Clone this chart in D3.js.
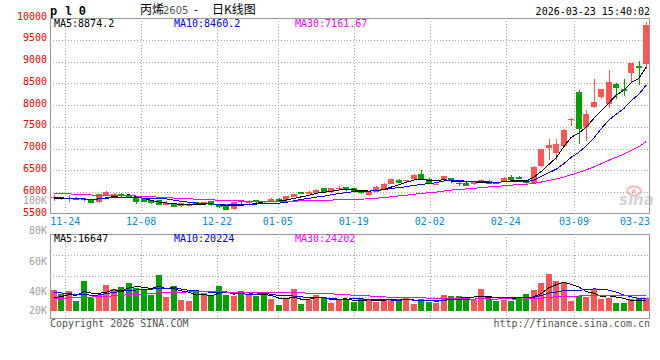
<!DOCTYPE html>
<html>
<head>
<meta charset="utf-8">
<script src="https://cdn.jsdelivr.net/npm/d3@7"></script>
<style>
  body { margin: 0; background: #fff; }
  svg text { font-family: "DejaVu Sans Mono", monospace; font-size: 10px; }
</style>
</head>
<body>
<div id="chart"></div>
<script>
// trading days shown (2025-11-20 .. 2026-03-23)
const dates = [
  "11-20","11-21","11-24","11-25","11-26","11-27","11-28","12-01","12-02","12-03",
  "12-04","12-05","12-08","12-09","12-10","12-11","12-12","12-15","12-16","12-17",
  "12-18","12-19","12-22","12-23","12-24","12-25","12-26","12-29","12-30","12-31",
  "01-05","01-06","01-07","01-08","01-09","01-12","01-13","01-14","01-15","01-16",
  "01-19","01-20","01-21","01-22","01-23","01-26","01-27","01-28","01-29","01-30",
  "02-02","02-03","02-04","02-05","02-06","02-09","02-10","02-11","02-12","02-13",
  "02-24","02-25","02-26","02-27","03-02","03-03","03-04","03-05","03-06","03-09",
  "03-10","03-11","03-12","03-13","03-16","03-17","03-18","03-19","03-20","03-23"
];

const open = [
  5860,5880,5850,5865,5840,5830,5770,5930,5930,5960,
  5925,5870,5850,5820,5825,5720,5750,5670,5690,5770,
  5720,5790,5720,5695,5600,5800,5760,5810,5790,5790,
  5850,5810,5890,6000,5960,5980,6090,6000,6070,6110,
  6090,6040,5920,6020,6090,6190,6290,6240,6300,6420,
  6310,6180,6280,6320,6220,6220,6180,6230,6260,6230,
  6270,6360,6350,6270,6230,6610,7030,6900,7070,7680,
  8300,7510,7950,8180,8040,8490,8370,8720,8890,8950
];
const close = [
  5880,5840,5870,5815,5820,5770,5960,6000,5960,5910,
  5870,5770,5780,5740,5720,5760,5660,5750,5740,5720,
  5770,5690,5650,5600,5770,5780,5800,5770,5780,5850,
  5790,5910,5960,5960,6000,6060,6000,6090,6100,6040,
  6030,5960,6000,6130,6200,6300,6230,6270,6400,6280,
  6190,6200,6370,6240,6200,6160,6230,6280,6200,6190,
  6330,6300,6310,6190,6590,6990,7090,7100,7440,7690,
  7460,7800,8070,8360,8540,8390,8330,8960,8840,9850
];
const high = [
  5925,5900,5930,5880,5850,5840,5970,6020,5980,5980,
  5935,5880,5860,5830,5830,5790,5760,5760,5750,5780,
  5780,5800,5730,5700,5775,5830,5830,5830,5800,5860,
  5860,5920,5970,6010,6020,6070,6100,6100,6150,6120,
  6100,6050,6010,6140,6210,6310,6300,6290,6410,6500,
  6320,6220,6380,6330,6230,6230,6250,6300,6270,6240,
  6360,6400,6370,6280,6600,7000,7230,7230,7450,7700,
  8340,7890,8590,8380,8800,8500,8600,8970,9020,9900
];
const low = [
  5800,5810,5780,5810,5800,5760,5760,5920,5920,5900,
  5860,5740,5770,5730,5700,5710,5650,5660,5680,5710,
  5715,5680,5640,5590,5595,5730,5740,5760,5730,5780,
  5785,5800,5880,5950,5950,5970,5990,5990,6060,6030,
  6020,5950,5910,6010,6080,6180,6220,6230,6290,6270,
  6180,6170,6270,6220,6150,6150,6170,6220,6190,6180,
  6250,6290,6300,6170,6220,6590,6740,6730,7050,7530,
  7100,7170,7940,8150,7940,8130,8220,8530,8470,8830
];
const volume = [
  32300,27000,30700,15100,46300,20300,24500,40100,33900,37400,
  43700,35900,33900,24500,55700,21400,38500,16700,15100,32300,
  28500,24500,38500,24500,22900,30700,24500,22900,26100,18300,
  8900,20300,33900,10500,17600,24500,21800,12500,16700,18300,
  14000,20900,16700,14000,19300,16700,18300,20900,10500,18300,
  14000,12500,25500,23900,23900,18400,16700,34000,19300,16000,
  16700,15100,20800,26000,32000,43000,58000,46000,45000,15100,
  23500,21500,34500,18500,21000,13100,11700,18000,20200,20200
];
// closes / volumes before the first visible day (only feed the moving averages)
const priorClose = [
  6080,6120,6090,6050,6010,6040,6070,6030,5990,6010,
  6050,6020,5980,6000,6040,6010,5990,6000,6020,5930,
  5950,5920,5890,5900,5890,5860,5830,5840,5840
];
const priorVolume = [
  12000,13500,11000,15000,14500,12500,16000,13000,15500,14000,
  13000,16500,14000,15000,12500,14500,15500,13500,17000,14600,
  42000,35000,40500,37000,37000,19000,16500,18500,18200
];

const priceTicks = [5500,6000,6500,7000,7500,8000,8500,9000,9500,10000];
const dateTicks = ["11-24","12-08","12-22","01-05","01-19","02-02","02-24","03-09","03-23"];
const volTicks = [100000,80000,60000,40000,20000];
const maPeriods = [5,10,30];
const maColors = ["#000000","#0000ff","#ff00ff"];
const maLabels = ["MA5:8874.2","MA10:8460.2","MA30:7161.67"];
const volMaLabels = ["MA5:16647","MA10:20224","MA30:24202"];

const up = "#ff5555", down = "#00a000";
const n = dates.length;

const svg = d3.select("#chart").append("svg")
  .attr("width", 660)
  .attr("height", 360);

const x = d3.scaleBand().domain(d3.range(n)).range([50, 650]).paddingInner(0.2).paddingOuter(0.1);
const xt = d3.scalePoint().domain(d3.range(n)).range([50, 650]);
const y = d3.scaleLinear().domain([5500, 10000]).range([214, 18]);
const yv = d3.scaleLinear().domain([0, 120000]).range([311, 234]);
const volLabelY = d3.scaleLinear().domain([40000, 100000]).range([291, 200]);

const cx = i => Math.round(x(i)) + 3;

function movingAvg(values, prior, k) {
  const all = prior.concat(values);
  return values.map((v, i) => d3.mean(all.slice(prior.length + i - k + 1, prior.length + i + 1)));
}

svg.append("defs").append("clipPath").attr("id", "clipMain")
  .append("rect").attr("x", 50).attr("y", 18).attr("width", 600).attr("height", 196);
svg.select("defs").append("clipPath").attr("id", "clipVol")
  .append("rect").attr("x", 50).attr("y", 234).attr("width", 600).attr("height", 84);

// grid
const grid = svg.append("g")
  .attr("stroke", "#aaaaaa")
  .attr("stroke-dasharray", "1,2")
  .attr("shape-rendering", "crispEdges");

grid.selectAll(".hg")
  .data(priceTicks.filter(p => p > 5500 && p < 10000))
  .enter().append("line")
    .attr("x1", 50).attr("x2", 650)
    .attr("y1", d => Math.round(y(d)) + 0.5)
    .attr("y2", d => Math.round(y(d)) + 0.5);

grid.selectAll(".hv")
  .data([1, 2, 3])
  .enter().append("line")
    .attr("x1", 50).attr("x2", 650)
    .attr("y1", k => Math.round(234 + k * 21) + 0.5)
    .attr("y2", k => Math.round(234 + k * 21) + 0.5);

const tickIdx = dateTicks.map(t => dates.indexOf(t));
[[18, 214], [234, 318]].forEach(function(r) {
  grid.append("g").selectAll("line")
    .data(tickIdx.slice(0, -1))
    .enter().append("line")
      .attr("x1", i => Math.round(xt(i)) + 0.5)
      .attr("x2", i => Math.round(xt(i)) + 0.5)
      .attr("y1", r[0]).attr("y2", r[1]);
});

// watermark
const wm = svg.append("g").attr("opacity", 0.55);
wm.append("ellipse").attr("cx", 634).attr("cy", 191).attr("rx", 7).attr("ry", 4.5)
  .attr("fill", "none").attr("stroke", "#f08080").attr("stroke-width", 2);
wm.append("circle").attr("cx", 634).attr("cy", 191).attr("r", 2).attr("fill", "#f08080");
wm.append("text").attr("x", 619).attr("y", 205)
  .style("font-family", "DejaVu Sans").style("font-size", "15px")
  .style("font-style", "italic").style("font-weight", "bold")
  .attr("fill", "#b0b0b0").text("sina");

// candles
const candles = svg.append("g").attr("clip-path", "url(#clipMain)").attr("shape-rendering", "crispEdges");
const c = candles.selectAll("g")
  .data(d3.range(n))
  .enter().append("g")
    .attr("fill", i => close[i] >= open[i] ? up : down)
    .attr("stroke", i => close[i] >= open[i] ? up : down);

c.append("line")
  .attr("x1", i => cx(i) + 0.5).attr("x2", i => cx(i) + 0.5)
  .attr("y1", i => y(high[i])).attr("y2", i => y(low[i]));

c.append("rect")
  .attr("stroke", "none")
  .attr("x", i => Math.round(x(i)))
  .attr("width", 6)
  .attr("y", i => Math.round(y(Math.max(open[i], close[i]))))
  .attr("height", i => Math.max(1, Math.round(Math.abs(y(open[i]) - y(close[i])))));

// moving averages (aliased polylines, like the original gif)
const line = d3.line()
  .x((d, i) => x(i) + x.bandwidth() / 2);

const maMain = svg.append("g").attr("clip-path", "url(#clipMain)").attr("fill", "none")
  .attr("shape-rendering", "crispEdges");
maPeriods.forEach(function(k, j) {
  maMain.append("path")
    .attr("stroke", maColors[j])
    .attr("stroke-width", 1)
    .attr("d", line.y(d => y(d))(movingAvg(close, priorClose, k)));
});

// volume
svg.append("g").attr("shape-rendering", "crispEdges").selectAll("rect")
  .data(volume)
  .enter().append("rect")
    .attr("fill", (d, i) => close[i] >= open[i] ? up : down)
    .attr("x", (d, i) => Math.round(x(i)))
    .attr("width", 6)
    .attr("y", d => Math.round(yv(d)))
    .attr("height", d => Math.round(yv(0)) - Math.round(yv(d)));

const maVol = svg.append("g").attr("clip-path", "url(#clipVol)").attr("fill", "none")
  .attr("shape-rendering", "crispEdges");
maPeriods.forEach(function(k, j) {
  maVol.append("path")
    .attr("stroke", maColors[j])
    .attr("stroke-width", 1)
    .attr("d", line.y(d => yv(d))(movingAvg(volume, priorVolume, k)));
});

// frames
const frame = svg.append("g").attr("fill", "none").attr("stroke", "#999999").attr("shape-rendering", "crispEdges");
frame.append("rect").attr("x", 50.5).attr("y", 18.5).attr("width", 599).attr("height", 195);
frame.append("rect").attr("x", 50.5).attr("y", 234.5).attr("width", 599).attr("height", 84);

// price axis labels
svg.append("g").selectAll("text")
  .data(priceTicks)
  .enter().append("text")
    .attr("x", 47)
    .attr("y", d => y(d) + 1.5)
    .attr("text-anchor", "end")
    .attr("fill", "#ff0000")
    .text(d => d);

// volume axis labels
svg.append("g").selectAll("text")
  .data(volTicks)
  .enter().append("text")
    .attr("x", 47)
    .attr("y", d => Math.min(volLabelY(d), 310) + 4)
    .attr("text-anchor", "end")
    .attr("fill", "#a0a0a0")
    .text(d => d / 1000 + "K");

// date labels
svg.append("g").selectAll("text")
  .data(tickIdx)
  .enter().append("text")
    .attr("x", i => i === n - 1 ? 650 : xt(i))
    .attr("y", 225)
    .attr("text-anchor", i => i === n - 1 ? "end" : "middle")
    .attr("fill", "#0a8ad0")
    .text(i => dates[i]);

// legends
const legendX = [54, 174, 295];
svg.append("g").selectAll("text")
  .data(maLabels)
  .enter().append("text")
    .attr("x", (d, j) => legendX[j]).attr("y", 27)
    .attr("fill", (d, j) => maColors[j])
    .text(d => d);
svg.append("g").selectAll("text")
  .data(volMaLabels)
  .enter().append("text")
    .attr("x", (d, j) => legendX[j]).attr("y", 242)
    .attr("fill", (d, j) => maColors[j])
    .text(d => d);

// header
svg.append("text").attr("x", 50).attr("y", 15)
  .style("font-family", "Liberation Mono").style("font-size", "12px").style("font-weight", "bold")
  .attr("fill", "#000").text("p l 0");
svg.append("text").attr("x", 140).attr("y", 14)
  .style("font-family", "Noto Sans CJK SC").style("font-size", "12px")
  .attr("fill", "#000").text("丙烯");
svg.append("text").attr("x", 163).attr("y", 14)
  .style("font-family", "DejaVu Sans").style("font-size", "10px")
  .attr("fill", "#555").text("2605");
svg.append("text").attr("x", 194).attr("y", 14)
  .style("font-family", "Noto Sans CJK SC").style("font-size", "12px")
  .attr("fill", "#000").text("-");
svg.append("text").attr("x", 212).attr("y", 14)
  .style("font-family", "Noto Sans CJK SC").style("font-size", "12px")
  .attr("fill", "#000").text("日K线图");
svg.append("text").attr("x", 650).attr("y", 15)
  .attr("text-anchor", "end").attr("fill", "#000").text("2026-03-23 15:40:02");

// footer
svg.append("text").attr("x", 50).attr("y", 327).attr("fill", "#555").text("Copyright 2026 SINA.COM");
svg.append("text").attr("x", 650).attr("y", 327).attr("text-anchor", "end").attr("fill", "#555").text("http://finance.sina.com.cn");
</script>
</body>
</html>
